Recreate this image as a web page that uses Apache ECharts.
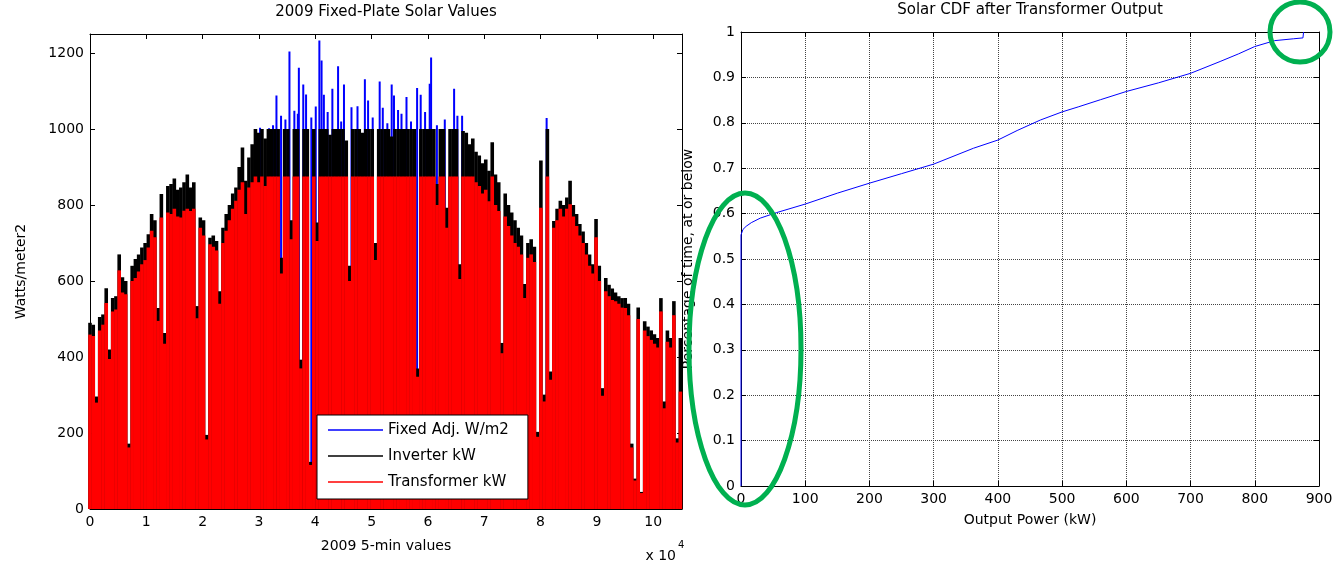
<!DOCTYPE html>
<html>
<head>
<meta charset="utf-8">
<title>Solar values</title>
<script src="https://cdn.jsdelivr.net/npm/echarts@6/dist/echarts.min.js"></script>
<style>
    html,body{margin:0;padding:0;background:#fff;}
    #show{width:1336px;height:563px;}
</style>
</head>
<body>
<div id="show"></div>
<script>
// left plot: one sample every 576 five-min steps (2 days), peak of that sample
var sampleStep = 576;
var inverterKW = [490,485,296,505,512,581,420,555,560,670,
    610,600,172,640,658,670,688,700,723,776,
    760,529,829,463,850,855,870,840,846,860,
    880,846,860,534,767,760,195,714,720,705,
    573,740,776,800,830,846,900,951,864,925,
    960,1000,990,1000,975,1000,1000,1000,1000,661,
    1000,1000,760,1000,1000,393,1000,1000,124,1000,
    754,1000,1000,1000,985,1000,1000,1000,1000,970,
    640,1000,1000,1000,990,1000,1000,1000,700,1000,
    1000,1000,1000,980,1000,1000,1000,1000,1000,1000,
    1000,370,1000,1000,1000,1000,1000,855,1000,1000,
    793,1000,1000,1000,644,995,990,960,975,940,
    930,910,920,890,965,880,860,437,830,800,
    780,760,740,720,592,700,710,690,203,917,
    301,1000,362,758,790,811,800,820,864,800,
    776,750,730,700,670,644,763,640,318,608,
    590,580,570,560,555,555,540,172,80,530,
    45,494,480,470,460,450,555,283,470,450,
    547,186,450];
var transformerKW = [459,455,280,470,485,542,395,520,525,628,
    570,565,162,600,608,625,644,655,688,732,
    715,495,767,435,780,776,790,770,767,785,
    790,784,790,502,740,720,183,697,690,680,
    540,700,732,760,790,811,840,860,776,846,
    860,875,860,875,850,875,875,875,875,620,
    875,875,710,875,875,370,875,875,116,875,
    705,875,875,875,875,875,875,875,875,875,
    600,875,875,875,875,875,875,875,655,875,
    875,875,875,875,875,875,875,875,875,875,
    875,348,875,875,875,875,875,800,875,875,
    740,875,875,875,605,875,875,875,875,860,
    850,830,840,810,875,800,784,410,770,745,
    720,700,690,670,555,661,670,650,190,793,
    283,875,340,740,760,790,770,790,802,770,
    745,720,700,670,640,620,715,600,298,573,
    560,550,547,540,530,529,510,162,75,500,
    42,470,455,445,435,425,520,265,440,425,
    510,175,309];
// fixed plate peaks that rise above the inverter limit
var fixedX = [30195,31794,32500,33108,33925,34700,35417,36288,36900,37087,
    37869,38366,39300,40089,40728,41119,41528,42200,43037,44050,
    44600,45098,46430,47500,48810,49378,50200,51439,51989,52800,
    53570,53979,54700,55311,56199,57000,58082,58721,59500,60320,
    60568,61600,63000,64654,65240,66075,81083];
var fixedW = [1003,1002,1010,1088,1035,1025,1204,1048,1040,1161,
    1117,1091,1030,1059,1233,1180,1090,1045,1106,1165,
    1020,1117,1057,1060,1131,1075,1030,1125,1056,1015,
    1117,1088,1050,1040,1084,1020,1108,1090,1045,1119,
    1188,1010,1025,1106,1035,1035,1029];
var totalSteps = 105120;

// right plot: CDF
var cdfPower = [0,0,3,8,16,30,55,100,150,200,250,300,362,400,430,466,500,525,560,600,650,700,746,775,800,831,860,875,876];
var cdfFraction = [0,0.553,0.565,0.572,0.580,0.590,0.602,0.621,0.645,0.667,0.688,0.709,0.744,0.762,0.783,0.806,0.824,0.835,0.851,0.869,0.888,0.909,0.935,0.952,0.968,0.981,0.985,0.987,1.0];

var font = 'DejaVu Sans';
var myChart = echarts.init(document.getElementById('show'));

var invData = inverterKW.map(function (v, i) { return [i * sampleStep, v]; });
var trData = transformerKW.map(function (v, i) { return [i * sampleStep, v]; });
var fixData = fixedX.map(function (x, i) { return [x, fixedW[i]]; });
var cdfData = cdfPower.map(function (p, i) { return [p, cdfFraction[i]]; });

var tick = {show: true, inside: true, length: 5, lineStyle: {color: '#000', width: 1}};
var line = {show: true, onZero: false, lineStyle: {color: '#000', width: 1}};
var lbl = {color: '#000', fontSize: 14, fontFamily: font};

option = {
    animation: false,
    textStyle: {fontFamily: font},
    grid: [
        {left: 90, top: 34, width: 592, height: 475},
        {left: 741, top: 32, width: 578, height: 454}
    ],
    legend: {
        orient: 'vertical',
        left: 317, top: 415,
        padding: [6, 19, 8, 11],
        itemGap: 8,
        itemWidth: 55, itemHeight: 1.5,
        backgroundColor: '#fff',
        borderColor: '#000', borderWidth: 1,
        textStyle: {fontSize: 15, color: '#000', lineHeight: 18, fontFamily: font},
        data: [
            {name: 'Fixed Adj. W/m2', icon: 'rect'},
            {name: 'Inverter kW', icon: 'rect'},
            {name: 'Transformer kW', icon: 'rect'}
        ]
    },
    xAxis: [
        {type: 'value', gridIndex: 0, position: 'bottom', min: 0, max: totalSteps, interval: 10000,
            axisLine: line, axisTick: tick, splitLine: {show: false},
            axisLabel: Object.assign({margin: 6, showMaxLabel: false, formatter: function (v) { return String(v / 10000); }}, lbl),
            name: '2009 5-min values', nameLocation: 'middle', nameGap: 30,
            nameTextStyle: {fontSize: 14, color: '#000', fontFamily: font}},
        {type: 'value', gridIndex: 0, position: 'top', min: 0, max: totalSteps, interval: 10000,
            axisLine: line, axisTick: tick, axisLabel: {show: false}, splitLine: {show: false}},
        {type: 'value', gridIndex: 0, show: false, min: 0, max: totalSteps},
        {type: 'value', gridIndex: 1, position: 'bottom', min: 0, max: 900, interval: 100,
            axisLine: line, axisTick: tick,
            axisLabel: Object.assign({margin: 6, formatter: function (v) { return String(v); }}, lbl),
            splitLine: {show: true, lineStyle: {color: '#444', type: 'dotted', width: 1}},
            name: 'Output Power (kW)', nameLocation: 'middle', nameGap: 27,
            nameTextStyle: {fontSize: 14, color: '#000', fontFamily: font}},
        {type: 'value', gridIndex: 1, position: 'top', min: 0, max: 900, interval: 100,
            axisLine: line, axisTick: tick, axisLabel: {show: false}, splitLine: {show: false}}
    ],
    yAxis: [
        {type: 'value', gridIndex: 0, position: 'left', min: 0, max: 1250, interval: 200,
            axisLine: line, axisTick: tick, splitLine: {show: false},
            axisLabel: Object.assign({margin: 6, showMaxLabel: false, formatter: function (v) { return String(v); }}, lbl),
            name: 'Watts/meter2', nameLocation: 'middle', nameGap: 62,
            nameTextStyle: {fontSize: 14, color: '#000', fontFamily: font}},
        {type: 'value', gridIndex: 0, position: 'right', min: 0, max: 1250, interval: 200,
            axisLine: line, axisTick: tick, axisLabel: {show: false}, splitLine: {show: false}},
        {type: 'value', gridIndex: 1, position: 'left', min: 0, max: 1, interval: 0.1,
            axisLine: line, axisTick: tick,
            axisLabel: Object.assign({margin: 6, formatter: function (v) { return String(+v.toFixed(1)); }}, lbl),
            splitLine: {show: true, lineStyle: {color: '#444', type: 'dotted', width: 1}},
            name: 'Percentage of time, at or below', nameLocation: 'middle', nameGap: 46,
            nameTextStyle: {fontSize: 14, color: '#000', fontFamily: font}},
        {type: 'value', gridIndex: 1, position: 'right', min: 0, max: 1, interval: 0.1,
            axisLine: line, axisTick: tick, axisLabel: {show: false}, splitLine: {show: false}}
    ],
    series: [
        {name: 'Fixed Adj. W/m2', type: 'bar', xAxisIndex: 2, yAxisIndex: 0,
            barWidth: 2, itemStyle: {color: '#0000ff'}, data: fixData},
        {name: 'Inverter kW', type: 'bar', xAxisIndex: 0, yAxisIndex: 0,
            barWidth: 3.6, barGap: '-100%', itemStyle: {color: '#000000'}, data: invData},
        {name: 'Transformer kW', type: 'bar', xAxisIndex: 0, yAxisIndex: 0,
            barWidth: 3.6, barGap: '-100%', itemStyle: {color: '#ff0000'}, data: trData},
        {name: 'CDF', type: 'line', xAxisIndex: 3, yAxisIndex: 2, z: 5,
            showSymbol: false, lineStyle: {color: '#0000ff', width: 1}, data: cdfData}
    ],
    graphic: [
        {type: 'text', x: 386, y: 12, style: {text: '2009 Fixed-Plate Solar Values', textAlign: 'center',
            verticalAlign: 'middle', fontSize: 15, fontFamily: font, fill: '#000'}},
        {type: 'text', x: 1030, y: 10, style: {text: 'Solar CDF after Transformer Output', textAlign: 'center',
            verticalAlign: 'middle', fontSize: 15, fontFamily: font, fill: '#000'}},
        {type: 'text', x: 676, y: 556, style: {text: 'x 10', textAlign: 'right',
            verticalAlign: 'middle', fontSize: 14, fontFamily: font, fill: '#000'}},
        {type: 'text', x: 678, y: 545, style: {text: '4', textAlign: 'left',
            verticalAlign: 'middle', fontSize: 10, fontFamily: font, fill: '#000'}},
        // green highlight rings
        {type: 'ellipse', z: 100, shape: {cx: 745, cy: 349, rx: 56, ry: 156},
            style: {fill: 'transparent', stroke: '#00b050', lineWidth: 5}},
        {type: 'ellipse', z: 100, shape: {cx: 1300, cy: 32, rx: 30, ry: 30},
            style: {fill: 'transparent', stroke: '#00b050', lineWidth: 5}}
    ]
};
myChart.setOption(option);
</script>
</body>
</html>
